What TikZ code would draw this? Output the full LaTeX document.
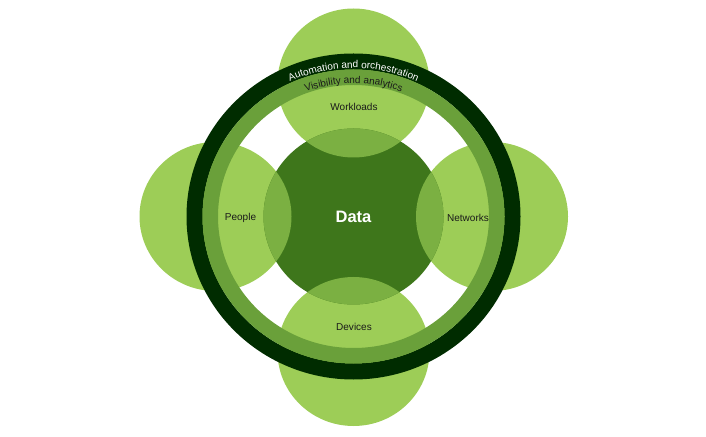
\documentclass[tikz,border=0pt]{standalone}
\usepackage{fontspec}
\setmainfont{Liberation Sans}
\usetikzlibrary{decorations.text}
\definecolor{lightg}{HTML}{9DCD57}
\definecolor{datag}{HTML}{3E761B}
\definecolor{overlapg}{HTML}{7BB042}
\definecolor{midring}{HTML}{6AA03A}
\definecolor{darkring}{HTML}{002C00}
\definecolor{labtext}{HTML}{1A1A1A}
\newcommand{\labfont}{\fontsize{5.7pt}{6.8pt}\selectfont}
\newcommand{\ringfont}{\fontsize{5.7pt}{6.8pt}\selectfont}
\begin{document}
\begin{tikzpicture}[x=0.02cm,y=0.02cm,
  lab/.style={font=\labfont, text=labtext, inner sep=0pt},
  petal/.style={x radius=76, y radius=74.5}]
\useasboundingbox (0,0) rectangle (706,436);
\coordinate (c) at (353.5,219.5);
\coordinate (pw) at (353.5,353);
\coordinate (pd) at (353.5,84.5);
\coordinate (pp) at (215.5,219.5);
\coordinate (pn) at (492,219.5);
% light circles
\foreach \p in {pw,pd,pp,pn}
  \fill[lightg] (\p) ellipse[petal];
% data circle
\fill[datag] (c) ellipse[x radius=90, y radius=88];
% overlaps
\begin{scope}
  \clip (c) ellipse[x radius=90, y radius=88];
  \foreach \p in {pw,pd,pp,pn}
    \fill[overlapg] (\p) ellipse[petal];
\end{scope}
% rings
\fill[darkring, even odd rule] (c) ellipse[x radius=167, y radius=163]
  (c) ellipse[x radius=151, y radius=147];
\fill[midring, even odd rule] (c) ellipse[x radius=151, y radius=147]
  (c) ellipse[x radius=135.5, y radius=131.5];
% ring texts
\begin{scope}[shift={(c)}]
  \path[decorate, decoration={text along path, text align=center,
      text color=white, text={|\ringfont|Automation and orchestration}}]
    (150:152 and 148.5) arc[start angle=150, end angle=30, x radius=152, y radius=148.5];
  \path[decorate, decoration={text along path, text align=center,
      text color=labtext, text={|\ringfont|Visibility and analytics}}]
    (150:136.5 and 133) arc[start angle=150, end angle=30, x radius=136.5, y radius=133];
\end{scope}
% labels
\node[inner sep=0pt, text=white, font=\fontsize{9.4pt}{11pt}\selectfont\bfseries] (data) at (353.5,219) {Data};
\node[lab] (people) at (240.5,218.5) {People};
\node[lab] (networks) at (468,218.5) {Networks};
\node[lab] (workloads) at (354,329) {Workloads};
\node[lab] (devices) at (354,109.3) {Devices};
\end{tikzpicture}
\end{document}
